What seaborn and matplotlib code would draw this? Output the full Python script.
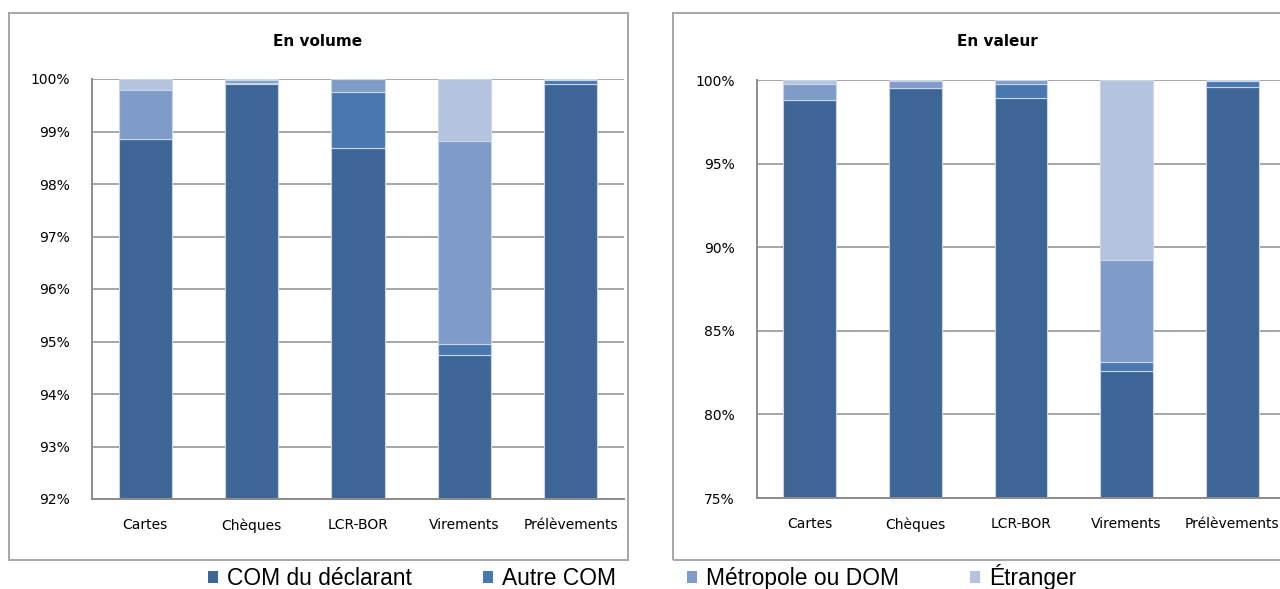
import matplotlib
matplotlib.use("Agg")
import matplotlib.pyplot as plt
from matplotlib.patches import Rectangle, Patch
from matplotlib.ticker import FuncFormatter, MultipleLocator
import numpy as np
import pandas as pd
import seaborn as sns

# Moyens de paiement
categories = ["Cartes", "Chèques", "LCR-BOR", "Virements", "Prélèvements"]
series_names = ["COM du déclarant", "Autre COM", "Métropole ou DOM", "Étranger"]

# Répartition en volume (%)
vol_com = [98.85, 99.90, 98.68, 94.74, 99.90]
vol_autre = [0.00, 0.03, 1.07, 0.21, 0.09]
vol_metro = [0.95, 0.05, 0.25, 3.87, 0.01]
vol_etranger = [0.20, 0.02, 0.00, 1.18, 0.00]

# Répartition en valeur (%)
val_com = [98.80, 99.52, 98.92, 82.57, 99.60]
val_autre = [0.00, 0.00, 0.84, 0.58, 0.35]
val_metro = [0.96, 0.45, 0.22, 6.06, 0.05]
val_etranger = [0.24, 0.03, 0.02, 10.79, 0.00]

colors = ["#3D6595", "#4978B1", "#7F9CC8", "#B5C4DE"]

sns.set_theme(style="white")
plt.rcParams["font.family"] = ["DejaVu Sans"]
plt.rcParams["text.color"] = "black"

fig = plt.figure(figsize=(12.8, 5.89), dpi=100)

# Cadres des deux graphiques
for x0, w in [(9, 619), (673, 619)]:
    fig.patches.append(Rectangle((x0 / 1280, 1 - 560 / 589), w / 1280, 547 / 589,
                                 transform=fig.transFigure, fill=False,
                                 edgecolor="#A6A6A6", linewidth=1.4, zorder=0))

ax1 = fig.add_axes([92 / 1280, 1 - 499 / 589, 532 / 1280, 420 / 589])
ax2 = fig.add_axes([757 / 1280, 1 - 498 / 589, 528 / 1280, 418 / 589])


def stacked(ax, values, ylim, step, title, title_x):
    df = pd.DataFrame({"cat": categories})
    bottom = np.zeros(len(categories))
    for name, vals, col in zip(series_names, values, colors):
        df["v"] = vals
        sns.barplot(data=df, x="cat", y="v", color=col, width=0.5, ax=ax,
                    bottom=bottom.copy(), edgecolor="#C9D6EA", linewidth=0.8,
                    saturation=1, zorder=2)
        bottom += np.array(vals)
    ax.set_ylim(*ylim)
    ax.yaxis.set_major_locator(MultipleLocator(step))
    ax.yaxis.set_major_formatter(FuncFormatter(lambda v, p: f"{v:.0f}%"))
    ax.grid(axis="y", color="#A6A6A6", linewidth=1.4, zorder=0)
    ax.set_axisbelow(True)
    for s in ["top", "right"]:
        ax.spines[s].set_visible(False)
    for s in ["left", "bottom"]:
        ax.spines[s].set_color("#8C8C8C")
        ax.spines[s].set_linewidth(1.4)
    ax.tick_params(axis="both", length=0, labelsize=10, colors="#000000")
    ax.tick_params(axis="x", pad=14)
    ax.tick_params(axis="y", pad=16)
    ax.set_xlabel("")
    ax.set_ylabel("")
    fig.text(title_x / 1280, 1 - 42 / 589, title, ha="center", va="center",
             fontsize=11, fontweight="bold", color="black")


stacked(ax1, [vol_com, vol_autre, vol_metro, vol_etranger], (92, 100), 1,
        "En volume", 318)
stacked(ax2, [val_com, val_autre, val_metro, val_etranger], (75, 100), 5,
        "En valeur", 997)

handles = [Patch(facecolor=c, edgecolor="none") for c in colors]
fig.legend(handles, series_names, loc="center", ncol=4,
           bbox_to_anchor=(642 / 1280, 1 - 577 / 589), frameon=False,
           prop={"family": "Liberation Sans", "size": 16.4},
           handlelength=0.45, handleheight=0.45, handletextpad=0.4,
           columnspacing=3.1, borderpad=0, labelcolor="black")

fig.savefig("out.png", dpi=100)
